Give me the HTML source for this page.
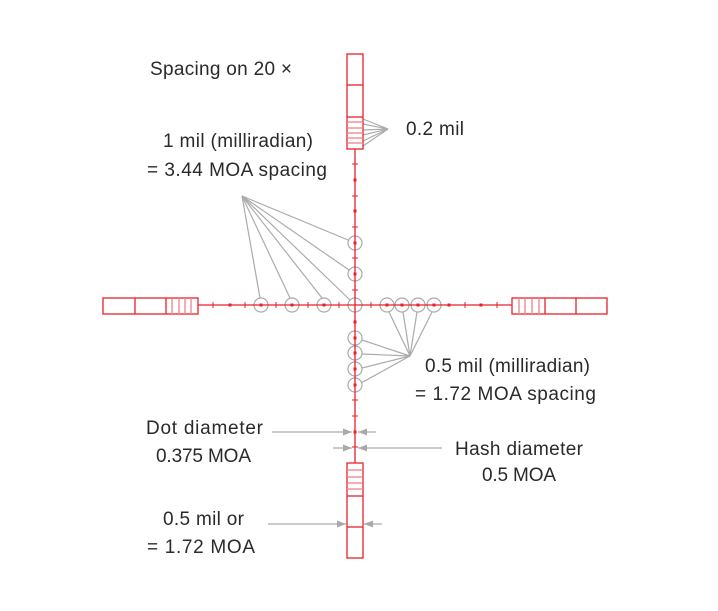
<!DOCTYPE html>
<html><head><style>
html,body{margin:0;padding:0;background:#fff;}
svg{display:block;}
text{font-family:"Liberation Sans",sans-serif;font-size:19px;fill:#2a2a2a;}
</style></head><body>
<svg width="718" height="611" viewBox="0 0 718 611" xmlns="http://www.w3.org/2000/svg">
<defs>
<marker id="ar" markerWidth="10" markerHeight="8" refX="9" refY="4" orient="auto" markerUnits="userSpaceOnUse">
<path d="M0,0.5 L9,4 L0,7.5 Z" fill="#a9a9a9"/>
</marker>
</defs>
<g stroke="#ababab" stroke-width="1.2" fill="none">
<line x1="242" y1="196" x2="348" y2="240"/>
<line x1="242" y1="196" x2="349" y2="270"/>
<line x1="242" y1="196" x2="350" y2="300"/>
<line x1="242" y1="196" x2="322" y2="298"/>
<line x1="242" y1="196" x2="290" y2="298"/>
<line x1="242" y1="196" x2="260" y2="298"/>
<line x1="410" y1="356" x2="389" y2="312"/>
<line x1="410" y1="356" x2="403" y2="312"/>
<line x1="410" y1="356" x2="417" y2="312"/>
<line x1="410" y1="356" x2="432" y2="312"/>
<line x1="410" y1="356" x2="362" y2="340"/>
<line x1="410" y1="356" x2="362" y2="354"/>
<line x1="410" y1="356" x2="362" y2="368"/>
<line x1="410" y1="356" x2="361" y2="383"/>
<line x1="388" y1="129" x2="363" y2="119"/>
<line x1="388" y1="129" x2="363" y2="124"/>
<line x1="388" y1="129" x2="363" y2="130"/>
<line x1="388" y1="129" x2="363" y2="135"/>
<line x1="388" y1="129" x2="363" y2="141"/>
<line x1="388" y1="129" x2="363" y2="146"/>
<circle cx="261" cy="305" r="7"/><circle cx="292" cy="305" r="7"/><circle cx="324" cy="305" r="7"/><circle cx="355" cy="305" r="7"/>
<circle cx="387" cy="305" r="7"/><circle cx="402" cy="305" r="7"/><circle cx="418" cy="305" r="7"/><circle cx="434" cy="305" r="7"/>
<circle cx="355" cy="243" r="7"/><circle cx="355" cy="274" r="7"/>
<circle cx="355" cy="338" r="7"/><circle cx="355" cy="353" r="7"/><circle cx="355" cy="369" r="7"/><circle cx="355" cy="385" r="7"/>
<line x1="272" y1="432" x2="352" y2="432" marker-end="url(#ar)"/>
<line x1="376" y1="432" x2="358" y2="432" marker-end="url(#ar)"/>
<line x1="333" y1="448" x2="352" y2="448" marker-end="url(#ar)"/>
<line x1="442" y1="448" x2="358" y2="448" marker-end="url(#ar)"/>
<line x1="268" y1="524" x2="346" y2="524" marker-end="url(#ar)"/>
<line x1="382" y1="524" x2="364" y2="524" marker-end="url(#ar)"/>
</g>
<g stroke="#e8202a" stroke-width="1.3" fill="none">
<line x1="355" y1="149" x2="355" y2="463"/>
<line x1="198" y1="305" x2="512" y2="305"/>
<rect x="347" y="54" width="16" height="95" fill="#fff"/>
<line x1="347" y1="85" x2="363" y2="85"/><line x1="347" y1="117" x2="363" y2="117"/>
<g stroke="#f08088"><line x1="347" y1="122" x2="363" y2="122"/><line x1="347" y1="128" x2="363" y2="128"/><line x1="347" y1="133" x2="363" y2="133"/><line x1="347" y1="138" x2="363" y2="138"/><line x1="347" y1="143" x2="363" y2="143"/></g>
<rect x="347" y="463" width="16" height="95" fill="#fff"/>
<line x1="347" y1="527" x2="363" y2="527"/><line x1="347" y1="496" x2="363" y2="496"/>
<g stroke="#f08088"><line x1="347" y1="470" x2="363" y2="470"/><line x1="347" y1="477" x2="363" y2="477"/><line x1="347" y1="483" x2="363" y2="483"/><line x1="347" y1="489" x2="363" y2="489"/></g>
<rect x="103" y="298" width="95" height="16" fill="#fff"/>
<line x1="135" y1="298" x2="135" y2="314"/><line x1="166" y1="298" x2="166" y2="314"/>
<g stroke="#f08088"><line x1="172" y1="298" x2="172" y2="314"/><line x1="179" y1="298" x2="179" y2="314"/><line x1="185" y1="298" x2="185" y2="314"/><line x1="191" y1="298" x2="191" y2="314"/></g>
<rect x="512" y="298" width="95" height="16" fill="#fff"/>
<line x1="545" y1="298" x2="545" y2="314"/><line x1="576" y1="298" x2="576" y2="314"/>
<g stroke="#f08088"><line x1="519" y1="298" x2="519" y2="314"/><line x1="525" y1="298" x2="525" y2="314"/><line x1="532" y1="298" x2="532" y2="314"/><line x1="539" y1="298" x2="539" y2="314"/></g>
</g>
<g fill="#e8202a" stroke="#e8202a" stroke-width="1">
<path d="M213,302v6M245,302v6M276,302v6M308,302v6M339,302v6M371,302v6M465,302v6M497,302v6"/>
<path d="M352,164h6M352,196h6M352,227h6M352,258h6M352,290h6M352,416h6M352,447h6M352,400h6"/>
</g>
<g fill="#e8202a">
<rect x="228.5" y="303.5" width="3" height="3"/><rect x="259.5" y="303.5" width="3" height="3"/><rect x="290.5" y="303.5" width="3" height="3"/><rect x="322.5" y="303.5" width="3" height="3"/>
<rect x="385.5" y="303.5" width="3" height="3"/><rect x="400.5" y="303.5" width="3" height="3"/><rect x="416.5" y="303.5" width="3" height="3"/><rect x="432.5" y="303.5" width="3" height="3"/>
<rect x="447.5" y="303.5" width="3" height="3"/><rect x="479.5" y="303.5" width="3" height="3"/>
<rect x="353.5" y="178.5" width="3" height="3"/><rect x="353.5" y="209.5" width="3" height="3"/><rect x="353.5" y="241.5" width="3" height="3"/><rect x="353.5" y="272.5" width="3" height="3"/>
<rect x="353.5" y="320.5" width="3" height="3"/><rect x="353.5" y="336.5" width="3" height="3"/><rect x="353.5" y="351.5" width="3" height="3"/><rect x="353.5" y="367.5" width="3" height="3"/><rect x="353.5" y="383.5" width="3" height="3"/><rect x="353.5" y="430.5" width="3" height="3"/>
</g>
<text x="150" y="75" textLength="142" lengthAdjust="spacing">Spacing on 20 ×</text>
<text x="163" y="147" textLength="150" lengthAdjust="spacing">1 mil (milliradian)</text>
<text x="147" y="176" textLength="180" lengthAdjust="spacing">= 3.44 MOA spacing</text>
<text x="406" y="135" textLength="58" lengthAdjust="spacing">0.2 mil</text>
<text x="425" y="372" textLength="165" lengthAdjust="spacing">0.5 mil (milliradian)</text>
<text x="415" y="400" textLength="181" lengthAdjust="spacing">= 1.72 MOA spacing</text>
<text x="146" y="434" textLength="117" lengthAdjust="spacing">Dot diameter</text>
<text x="156" y="462" textLength="95" lengthAdjust="spacing">0.375 MOA</text>
<text x="455" y="455" textLength="128" lengthAdjust="spacing">Hash diameter</text>
<text x="482" y="481" textLength="74" lengthAdjust="spacing">0.5 MOA</text>
<text x="163" y="525" textLength="81" lengthAdjust="spacing">0.5 mil or</text>
<text x="147" y="553" textLength="108" lengthAdjust="spacing">= 1.72 MOA</text>
</svg>
</body></html>
